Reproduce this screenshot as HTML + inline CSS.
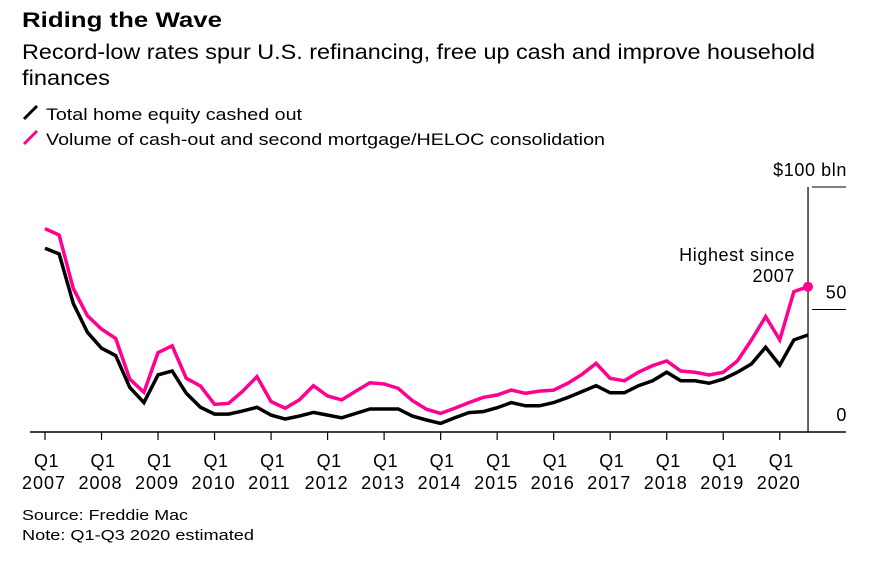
<!DOCTYPE html>
<html><head><meta charset="utf-8"><style>
body{margin:0;background:#fff;font-family:"Liberation Sans",sans-serif;color:#000}
svg text{font-family:"Liberation Sans",sans-serif}
</style></head><body>
<svg width="881" height="564" viewBox="0 0 881 564">
<text x="22" y="27" font-size="21" font-weight="bold" textLength="200" lengthAdjust="spacingAndGlyphs">Riding the Wave</text>
<text x="22" y="59" font-size="21" textLength="793" lengthAdjust="spacingAndGlyphs">Record-low rates spur U.S. refinancing, free up cash and improve household</text>
<text x="22" y="85" font-size="21" textLength="88" lengthAdjust="spacingAndGlyphs">finances</text>
<g><line x1="24" y1="119" x2="37" y2="106" stroke="#000" stroke-width="3"/><text x="46" y="120" font-size="17" textLength="256" lengthAdjust="spacingAndGlyphs">Total home equity cashed out</text></g>
<g><line x1="24" y1="144" x2="37" y2="131" stroke="#ff0090" stroke-width="3"/><text x="46" y="145" font-size="17" textLength="559" lengthAdjust="spacingAndGlyphs">Volume of cash-out and second mortgage/HELOC consolidation</text></g>
<g id="axes"></g>
<g id="plot"></g>
<text x="22" y="520" font-size="15" textLength="166" lengthAdjust="spacingAndGlyphs">Source: Freddie Mac</text>
<text x="22" y="540" font-size="15" textLength="232" lengthAdjust="spacingAndGlyphs">Note: Q1-Q3 2020 estimated</text>
</svg>
<script>
const years=["2007","2008","2009","2010","2011","2012","2013","2014","2015","2016","2017","2018","2019","2020"];
const yTicks=[0,50,100];
const yTickLabels=["0","50","$100 bln"];
const equity=[75,72.7,52.5,40.7,34.2,31.2,18.2,12,23.3,24.9,15.8,10.1,7.3,7.3,8.6,10.1,6.9,5.3,6.5,8,6.9,5.8,7.6,9.4,9.4,9.4,6.5,4.9,3.5,5.8,7.9,8.3,9.9,12,10.7,10.7,12,14.1,16.5,18.9,16,16,18.9,20.9,24.4,20.9,20.9,19.9,21.6,24.4,27.8,34.6,27.3,37.6,39.6];
const consolidation=[83,80.4,58.6,47.5,42,38.2,21.6,16.2,32.4,35.2,21.9,18.8,11.3,11.7,16.7,22.6,12.4,9.7,13.1,18.9,14.7,13.1,16.7,20.1,19.6,17.8,12.8,9.3,7.6,9.7,12,14.1,15.1,17.1,15.8,16.7,17.1,19.9,23.5,28,21.9,20.9,24.4,27.1,29,24.9,24.4,23.3,24.4,29,37.6,47.1,37.6,57.3,59.3];
const NS="http://www.w3.org/2000/svg";
const x0=45,qw=14.13,yBase=432,pxPerUnit=2.45;
const xq=i=>x0+i*qw;
const yv=v=>yBase-v*pxPerUnit;
function mk(tag,attrs,parent){const e=document.createElementNS(NS,tag);for(const k in attrs)e.setAttribute(k,attrs[k]);parent.appendChild(e);return e;}
const axes=document.getElementById('axes'),plot=document.getElementById('plot');
const base=mk('line',{x1:30,x2:846,y1:yBase,y2:yBase,stroke:'#000','stroke-width':1.5},axes);


const lastX=xq(equity.length-1);
const vax=mk('line',{x1:lastX,x2:lastX,y1:yv(100),y2:yBase,stroke:'#000','stroke-width':1.2},axes);


yTicks.forEach((t,k)=>{
  if(t>0){const g=mk('line',{x1:lastX+4,x2:846,y1:yv(t),y2:yv(t),stroke:'#000','stroke-width':1},axes);
  
  }
  const tx=mk('text',{x:847,y:yv(t)-11,'text-anchor':'end','font-size':18,'letter-spacing':'0.6'},axes);
  tx.textContent=yTickLabels[k];
  
  
});
years.forEach((y,i)=>{
  const xx=xq(i*4);
  const tk=mk('line',{x1:xx,x2:xx,y1:yBase,y2:yBase+8,stroke:'#000','stroke-width':1.2},axes);
  
  
  const t1=mk('text',{x:xx-11,y:467,'font-size':18,'letter-spacing':'0.5'},axes);t1.textContent='Q1';
  
  
  const t2=mk('text',{x:xx-23,y:489,'font-size':18,'letter-spacing':'1'},axes);t2.textContent=y;
  
  
});
function series(arr,color,name){
  const p=mk('polyline',{points:arr.map((v,i)=>xq(i)+','+yv(v)).join(' '),fill:'none',stroke:color,'stroke-width':3.5,'stroke-linejoin':'miter'},plot);
  
  
}
series(consolidation,'#ff0090','consolidation-line');
series(equity,'#000','equity-line');
const n=consolidation.length-1;
const dot=mk('circle',{cx:xq(n),cy:yv(consolidation[n]),r:5,fill:'#ff0090'},plot);


const a1=mk('text',{x:795,y:261,'text-anchor':'end','font-size':18,'letter-spacing':'0.6'},plot);a1.textContent='Highest since';


const a2=mk('text',{x:795,y:282,'text-anchor':'end','font-size':18,'letter-spacing':'0.6'},plot);a2.textContent='2007';


</script>
</body></html>
